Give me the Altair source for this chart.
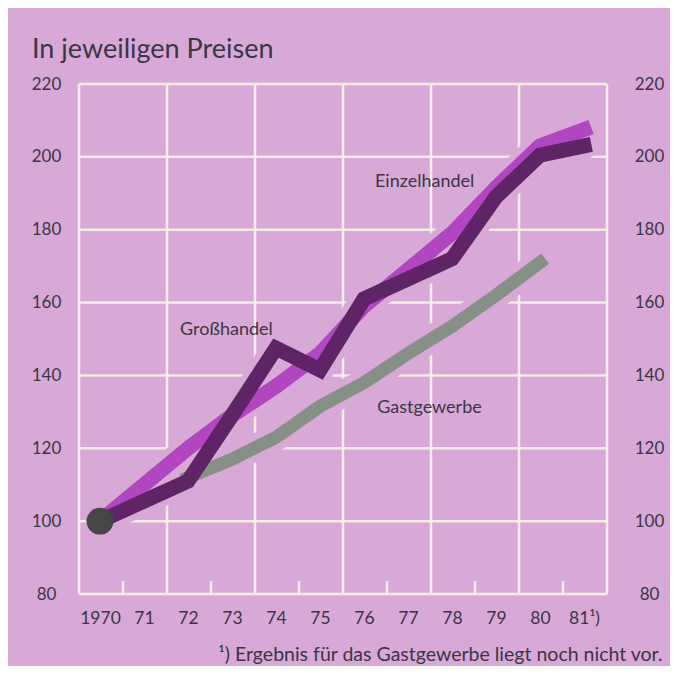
import altair as alt
import pandas as pd

# ---------------- data ----------------
years = [1970, 1971, 1972, 1973, 1974, 1975, 1976, 1977, 1978, 1979, 1980, 1981]
x_labels = ["1970", "71", "72", "73", "74", "75", "76", "77", "78", "79", "80", "81¹)"]
einzelhandel = [100, 110, 120, 129, 137, 146, 159, 169, 179, 191.5, 203, 207.5]
grosshandel = [100, 105.5, 111, 129, 147.5, 141.5, 161, 166.5, 172, 189, 200.5, 203]
gast_years = [1972, 1973, 1974, 1975, 1976, 1977, 1978, 1979, 1980]
gastgewerbe = [112, 117, 123, 131.5, 138, 146, 153.5, 162, 171]
y_ticks = [80, 100, 120, 140, 160, 180, 200, 220]

ann_text = ["Einzelhandel", "Großhandel", "Gastgewerbe"]
ann_x = [1976.25, 1971.82, 1976.30]
ann_y = [191.7, 151.1, 129.7]

title_text = "In jeweiligen Preisen"
footnote = "¹) Ergebnis für das Gastgewerbe liegt noch nicht vor."

# ---------------- styling ----------------
BG = "#d8a9d6"
GRID = "#f4ede6"
TEXT = "#3b3644"
C_EINZEL = "#b245c0"
C_GROSS = "#5e2466"
C_GAST = "#879087"
C_DOT = "#464646"
FONT = "Lato"

W, H = 528, 510
d0 = 1969.523
d1 = d0 + 12

xs = alt.Scale(domain=[d0, d1], nice=False, zero=False)
ys = alt.Scale(domain=[80, 220], nice=False, zero=False)

df_e = pd.DataFrame({"year": years, "value": einzelhandel})
df_g = pd.DataFrame({"year": years, "value": grosshandel})
df_s = pd.DataFrame({"year": gast_years, "value": gastgewerbe})
df_all = pd.concat([df_e.assign(s="E"), df_g.assign(s="G"), df_s.assign(s="S")])

vgrid = pd.DataFrame({"x": [d0 + 2 * k for k in range(7)], "y0": 80, "y1": 220})
hgrid = pd.DataFrame({"y": y_ticks, "x0": d0, "x1": d1})
smallticks = pd.DataFrame({"x": [d0 + 1 + 2 * k for k in range(6)], "y0": 80, "y1": 83.6})
ann = pd.DataFrame({"t": ann_text, "x": ann_x, "y": ann_y})
dot = pd.DataFrame({"year": [years[0]], "value": [einzelhandel[0]]})

h_layer = alt.Chart(hgrid).mark_rule(color=GRID, strokeWidth=2.5).encode(
    x=alt.X("x0:Q", scale=xs, axis=None), x2="x1",
    y=alt.Y("y:Q", scale=ys, axis=None))
v_layer = alt.Chart(vgrid).mark_rule(color=GRID, strokeWidth=2.5).encode(
    x=alt.X("x:Q", scale=xs, axis=None),
    y=alt.Y("y0:Q", scale=ys, axis=None), y2="y1")
t_layer = alt.Chart(smallticks).mark_rule(color=GRID, strokeWidth=2.5).encode(
    x=alt.X("x:Q", scale=xs, axis=None),
    y=alt.Y("y0:Q", scale=ys, axis=None), y2="y1")

def line(df, color, width, cap="square", join="miter"):
    return alt.Chart(df).mark_line(color=color, strokeWidth=width, strokeCap=cap,
                                   strokeJoin=join).encode(
        x=alt.X("year:Q", scale=xs, axis=None),
        y=alt.Y("value:Q", scale=ys, axis=None))

halo = alt.Chart(df_all).mark_line(color=BG, strokeWidth=27, strokeCap="round",
                                   strokeJoin="round").encode(
    x=alt.X("year:Q", scale=xs, axis=None),
    y=alt.Y("value:Q", scale=ys, axis=None),
    detail="s:N")

gast_l = line(df_s, C_GAST, 13)
einzel_l = line(df_e, C_EINZEL, 15)
gross_l = line(df_g, C_GROSS, 15)

dot_l = alt.Chart(dot).mark_circle(color=C_DOT, opacity=1, size=720).encode(
    x=alt.X("year:Q", scale=xs, axis=None),
    y=alt.Y("value:Q", scale=ys, axis=None))

ann_l = alt.Chart(ann).mark_text(align="left", baseline="alphabetic", fontSize=18,
                                 font=FONT, color=TEXT).encode(
    x=alt.X("x:Q", scale=xs, axis=None),
    y=alt.Y("y:Q", scale=ys, axis=None),
    text="t:N")

label_expr = "[" + ",".join("'%s'" % l for l in x_labels) + "][indexof([" + \
    ",".join(str(y) for y in years) + "], datum.value)]"

x_axis = alt.Axis(orient="bottom", values=years, labelExpr=label_expr, ticks=False,
                  tickSize=0, domain=False, grid=False, labelPadding=29,
                  labelBaseline="alphabetic", labelFontSize=17.5, labelFont=FONT,
                  labelColor=TEXT, labelFlush=False, labelOverlap=False,
                  title=footnote, titleX=583, titleY=66, titleAlign="right",
                  titleAnchor="end", titleBaseline="alphabetic", titleFontSize=19.5,
                  titleFont=FONT, titleFontWeight="normal", titleColor=TEXT)

y_left = alt.Axis(orient="left", values=y_ticks, ticks=False, tickSize=0, domain=False,
                  grid=False, labelAlign="center", labelPadding=33, labelFontSize=17,
                  labelFont=FONT, labelColor=TEXT, labelFlush=False, title=None)
y_right = alt.Axis(orient="right", values=y_ticks, ticks=False, tickSize=0, domain=False,
                   grid=False, labelAlign="center", labelPadding=42, labelFontSize=17,
                   labelFont=FONT, labelColor=TEXT, labelFlush=False, title=None)

axis_left = alt.Chart(df_e).mark_point(opacity=0).encode(
    x=alt.X("year:Q", scale=xs, axis=x_axis),
    y=alt.Y("value:Q", scale=ys, axis=y_left))
axis_right = alt.Chart(df_e).mark_point(opacity=0).encode(
    x=alt.X("year:Q", scale=xs, axis=None),
    y=alt.Y("value:Q", scale=ys, axis=y_right))

chart = alt.layer(
    h_layer, v_layer, t_layer, halo, gast_l, einzel_l, gross_l, dot_l, ann_l,
    axis_left, axis_right
).resolve_axis(y="independent", x="independent").properties(
    width=W, height=H,
    title=alt.TitleParams(title_text, anchor="start", frame="group", dx=-47, dy=36,
                          offset=26, baseline="alphabetic", fontSize=27, font=FONT,
                          fontWeight="normal", color=TEXT),
    background=BG,
    padding={"left": 71, "top": 76, "right": 63, "bottom": 72},
    autosize=alt.AutoSizeParams(type="none"),
).configure_view(stroke=None)

chart.save("out.html", embed_options={"renderer": "svg", "actions": False})
